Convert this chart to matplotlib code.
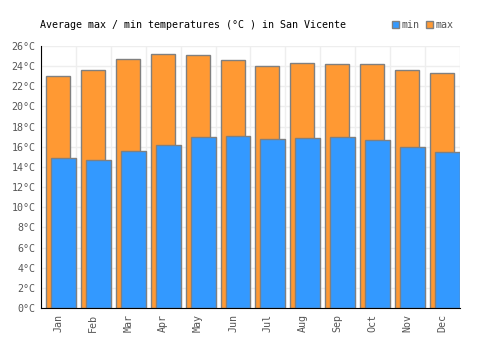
import matplotlib
matplotlib.use("Agg")
import matplotlib.pyplot as plt
from matplotlib.patches import Rectangle

months = ['Jan', 'Feb', 'Mar', 'Apr', 'May', 'Jun',
          'Jul', 'Aug', 'Sep', 'Oct', 'Nov', 'Dec']
t_max = [23.0, 23.6, 24.7, 25.2, 25.1, 24.6, 24.0, 24.3, 24.2, 24.2, 23.6, 23.3]
t_min = [14.9, 14.7, 15.6, 16.2, 17.0, 17.1, 16.8, 16.9, 17.0, 16.7, 16.0, 15.5]
y_ticks = list(range(0, 27, 2))

orange = '#FF9933'
blue = '#3399FF'
edge = '#808080'
txt = '#555555'

plt.rcParams['font.family'] = ['DejaVu Sans Mono']

fig = plt.figure(figsize=(5, 3.5), dpi=100)
ax = fig.add_axes([0.082, 0.12, 0.838, 0.749])

x = list(range(len(months)))
# max behind, min in front, shifted right like the original
ax.bar([i + 0.143 for i in x], t_max, width=0.686, align='edge',
       color=orange, edgecolor=edge, linewidth=1.0, zorder=2)
ax.bar([i + 0.286 for i in x], t_min, width=0.714, align='edge',
       color=blue, edgecolor=edge, linewidth=1.0, zorder=3)

ax.set_xlim(0, 12)
ax.set_ylim(0, 26)
ax.set_yticks(y_ticks)
ax.set_yticklabels([f'{v}°C' for v in y_ticks], fontsize=7.2, color=txt)
ax.set_xticks([i + 0.5 for i in x])
ax.set_xticklabels(months, rotation=90, fontsize=7.2, color=txt)
ax.tick_params(length=0, pad=4)

# grid
for v in y_ticks:
    ax.axhline(v, color='#eeeeee', linewidth=1.0, zorder=0)
for i in range(13):
    ax.axvline(i, color='#eeeeee', linewidth=1.0, zorder=0)

ax.spines['top'].set_visible(False)
ax.spines['right'].set_visible(False)
ax.spines['left'].set_color('black')
ax.spines['bottom'].set_color('black')
ax.spines['left'].set_zorder(5)
ax.spines['bottom'].set_zorder(5)

fig.text(0.08, 0.93, 'Average max / min temperatures (°C ) in San Vicente',
         fontsize=7.2, color='black', ha='left', va='center')

# legend
for xs, col, lab in [(0.784, blue, 'min'), (0.852, orange, 'max')]:
    fig.patches.append(Rectangle((xs, 0.919), 0.014, 0.02, transform=fig.transFigure,
                                 facecolor=col, edgecolor=edge, linewidth=1.0))
    fig.text(xs + 0.018, 0.93, lab, fontsize=7.2, color=txt, ha='left', va='center')

fig.savefig('out.png', dpi=100)
